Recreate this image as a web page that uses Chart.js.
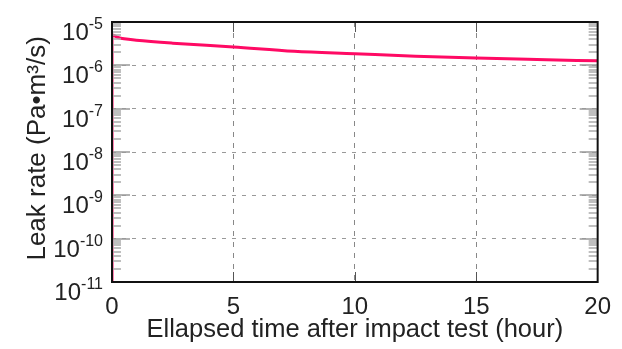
<!DOCTYPE html>
<html>
<head>
<meta charset="utf-8">
<script src="https://cdn.jsdelivr.net/npm/chart.js@4"></script>
<style>
  html, body { margin: 0; padding: 0; background: #fff; }
  #wrap { width: 622px; height: 349px; }
</style>
</head>
<body>
<div id="wrap"><canvas id="leakChart" width="622" height="349"></canvas></div>
<script>
// Data
const hours = [0, 0, 0.25, 0.5, 1, 2.5, 5, 7.5, 10, 12.5, 15, 17.5, 20];
const leakRate = [1e-11, 5.0e-6, 4.4e-6, 4.1e-6, 3.8e-6, 3.25e-6, 2.65e-6, 2.1e-6, 1.85e-6, 1.63e-6, 1.47e-6, 1.36e-6, 1.27e-6];
const decadeExponents = [-11, -10, -9, -8, -7, -6, -5];
const xTicks = [0, 5, 10, 15, 20];

const FONT = 'Arial, "Liberation Sans", sans-serif';
const isDecade = v => Math.abs(Math.log10(v) - Math.round(Math.log10(v))) < 1e-6;

// Draws inner tick marks, the frame and the 10^n labels
const framePlugin = {
    id: 'frame',
    afterDraw(chart) {
        const ctx = chart.ctx;
        const {left, right, top, bottom} = chart.chartArea;
        const y = chart.scales.y;
        const x = chart.scales.x;
        ctx.save();

        // minor/major ticks on left and right
        ctx.lineWidth = 1.5;
        for (let e = -11; e < -5; e++) {
            for (let m = 1; m <= 9; m++) {
                const v = m * Math.pow(10, e);
                const py = Math.round(y.getPixelForValue(v));
                const len = m === 1 ? 18 : 9;
                ctx.strokeStyle = m === 1 ? '#999' : '#aaa';
                ctx.beginPath();
                ctx.moveTo(left, py); ctx.lineTo(left + len, py);
                ctx.moveTo(right, py); ctx.lineTo(right - len, py);
                ctx.stroke();
            }
        }

        // x ticks top and bottom
        ctx.strokeStyle = '#555';
        ctx.lineWidth = 1;
        xTicks.slice(1, -1).forEach(t => {
            const px = Math.round(x.getPixelForValue(t)) + 0.5;
            ctx.beginPath();
            ctx.moveTo(px, top); ctx.lineTo(px, top + 10);
            ctx.moveTo(px, bottom); ctx.lineTo(px, bottom - 10);
            ctx.stroke();
        });

        // frame
        ctx.strokeStyle = '#111';
        ctx.lineWidth = 2;
        ctx.strokeRect(left, top, right - left, bottom - top);

        // y labels 10^n
        ctx.fillStyle = '#222';
        ctx.textBaseline = 'alphabetic';
        decadeExponents.forEach(e => {
            const py = y.getPixelForValue(Math.pow(10, e));
            const sup = '-' + Math.abs(e);
            ctx.font = '16px ' + FONT;
            const supW = ctx.measureText(sup).width;
            const rightEdge = left - 9;
            ctx.textAlign = 'left';
            ctx.fillText(sup, rightEdge - supW, py + 7);
            ctx.font = '24px ' + FONT;
            ctx.textAlign = 'right';
            ctx.fillText('10', rightEdge - supW, py + 18);
        });
        ctx.restore();
    }
};

new Chart(document.getElementById('leakChart').getContext('2d'), {
    type: 'line',
    data: {
        datasets: [{
            data: hours.map((h, i) => ({x: h, y: leakRate[i]})),
            borderColor: '#ff0a64',
            borderWidth: 3,
            pointRadius: 0,
            cubicInterpolationMode: 'monotone',
            fill: false
        }]
    },
    options: {
        responsive: false,
        animation: false,
        layout: {padding: {top: 22, right: 22, left: 0, bottom: 0}},
        plugins: {legend: {display: false}, tooltip: {enabled: false}},
        scales: {
            x: {
                type: 'linear',
                min: 0,
                max: 20,
                afterBuildTicks: s => { s.ticks = xTicks.map(v => ({value: v})); },
                afterFit: s => { s.height = 67; },
                grid: {
                    color: ctx => (ctx.tick && ctx.tick.value > 0 && ctx.tick.value < 20) ? '#888' : 'transparent',
                    drawTicks: false,
                    lineWidth: 1
                },
                border: {display: false, dash: [5, 6]},
                ticks: {
                    font: {size: 24, family: FONT},
                    color: '#222',
                    padding: 11,
                    maxRotation: 0
                },
                title: {
                    display: true,
                    text: 'Ellapsed time after impact test (hour)',
                    font: {size: 25.5, family: FONT},
                    color: '#222',
                    padding: {top: 0, bottom: 4}
                }
            },
            y: {
                type: 'logarithmic',
                min: 1e-11,
                max: 1e-5,
                afterFit: s => { s.width = 112; },
                grid: {
                    color: ctx => (ctx.tick && isDecade(ctx.tick.value) && ctx.tick.value > 1.5e-11 && ctx.tick.value < 0.9e-5) ? '#999' : 'transparent',
                    drawTicks: false,
                    lineWidth: 1
                },
                border: {display: false, dash: [4, 6]},
                ticks: {
                    callback: () => '',
                    autoSkip: false
                },
                title: {
                    display: true,
                    text: ' Leak rate (Pa\u2022m\u00b3/s)',
                    font: {size: 26, family: FONT},
                    color: '#222',
                    padding: {top: 22, bottom: 0}
                }
            }
        }
    },
    plugins: [framePlugin]
});
</script>
</body>
</html>
